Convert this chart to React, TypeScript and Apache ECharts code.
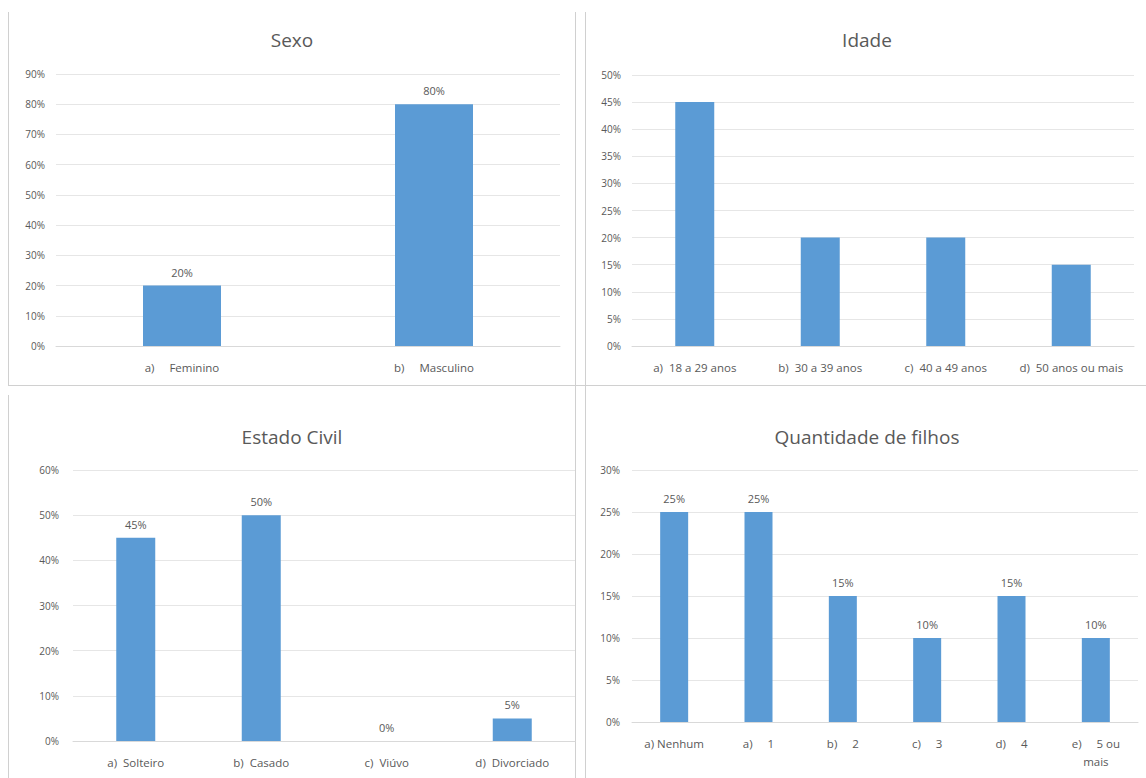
import React, { useEffect, useRef } from "react";
import * as echarts from "echarts";

// Survey profile: four bar panels (percentages)
const sexoCategorias = ["a)     Feminino", "b)     Masculino"];
const sexoValores = [20, 80];

const idadeCategorias = ["a)  18 a 29 anos", "b)  30 a 39 anos", "c)  40 a 49 anos", "d)  50 anos ou mais"];
const idadeValores = [45, 20, 20, 15];

const civilCategorias = ["a)  Solteiro", "b)  Casado", "c)  Viúvo", "d)  Divorciado"];
const civilValores = [45, 50, 0, 5];

const filhosCategorias = ["a) Nenhum", "a)     1", "b)     2", "c)     3", "d)     4", "e)     5 ou\nmais"];
const filhosValores = [25, 25, 15, 10, 15, 10];

const titulos = ["Sexo", "Idade", "Estado Civil", "Quantidade de filhos"];
const eixoMax = [90, 50, 60, 30];
const eixoPasso = [10, 5, 10, 5];

const FONT = "'Open Sans', 'Noto Sans', sans-serif";
const TEXT = "#595959";
const BAR = "#5B9BD5";
const GRIDLINE = "#E6E6E6";
const BORDER = "#D0D0D0";

export default function App() {
  const ref = useRef<HTMLDivElement>(null);

  useEffect(() => {
    if (!ref.current) return;
    const chart = echarts.init(ref.current, undefined, { renderer: "svg" });

    const grids = [
      { left: 56, right: 586, top: 74, bottom: 432 },
      { left: 632, right: 12, top: 75, bottom: 432 },
      { left: 73, right: 571, top: 470, bottom: 37 },
      { left: 632, right: 8, top: 470, bottom: 56 },
    ];
    const labelMargins = [11, 11, 14, 12];
    const cats = [sexoCategorias, idadeCategorias, civilCategorias, filhosCategorias];
    const vals = [sexoValores, idadeValores, civilValores, filhosValores];
    const barWidths = [78, 39, 39, 28];
    const showLabels = [true, false, true, true];

    const titleCenters = [
      [292, 40],
      [867, 40],
      [292, 437],
      [867, 437],
    ];

    const borderLine = (x1: number, y1: number, x2: number, y2: number) => ({
      type: "line",
      shape: { x1, y1, x2, y2 },
      style: { stroke: BORDER, lineWidth: 1 },
      silent: true,
    });

    chart.setOption({
      animation: false,
      backgroundColor: "#ffffff",
      textStyle: { fontFamily: FONT },
      grid: grids,
      xAxis: cats.map((c, i) => ({
        type: "category",
        gridIndex: i,
        data: c,
        axisTick: { show: false },
        axisLine: { show: true, lineStyle: { color: "#D9D9D9" } },
        axisLabel: {
          color: TEXT,
          fontSize: 11.5,
          fontFamily: FONT,
          margin: 12,
          interval: 0,
          lineHeight: 18,
        },
      })),
      yAxis: eixoMax.map((m, i) => ({
        type: "value",
        gridIndex: i,
        min: 0,
        max: m,
        interval: eixoPasso[i],
        axisLine: { show: false },
        axisTick: { show: false },
        splitLine: { lineStyle: { color: GRIDLINE, width: 1 } },
        axisLabel: {
          color: TEXT,
          fontSize: 10,
          fontFamily: FONT,
          margin: labelMargins[i],
          formatter: "{value}%",
        },
      })),
      series: vals.map((v, i) => ({
        type: "bar",
        xAxisIndex: i,
        yAxisIndex: i,
        data: v,
        barWidth: barWidths[i],
        itemStyle: { color: BAR },
        label: {
          show: showLabels[i],
          position: "top",
          distance: 8,
          color: TEXT,
          fontSize: 11,
          fontFamily: FONT,
          formatter: "{c}%",
        },
      })),
      graphic: [
        ...titulos.map((t, i) => ({
          type: "text",
          x: titleCenters[i][0],
          y: titleCenters[i][1],
          silent: true,
          style: {
            text: t,
            align: "center",
            verticalAlign: "middle",
            fill: TEXT,
            fontSize: 19,
            fontFamily: FONT,
          },
        })),
        // panel frames
        borderLine(8.5, 12, 8.5, 385.5),
        borderLine(8, 385.5, 1146, 385.5),
        borderLine(575.5, 12, 575.5, 778),
        borderLine(585.5, 12, 585.5, 778),
        borderLine(8.5, 395, 8.5, 778),
      ],
    });

    return () => chart.dispose();
  }, []);

  return (
    <div
      ref={ref}
      style={{ position: "absolute", left: 0, top: 0, width: 1146, height: 778, background: "#fff" }}
    />
  );
}
